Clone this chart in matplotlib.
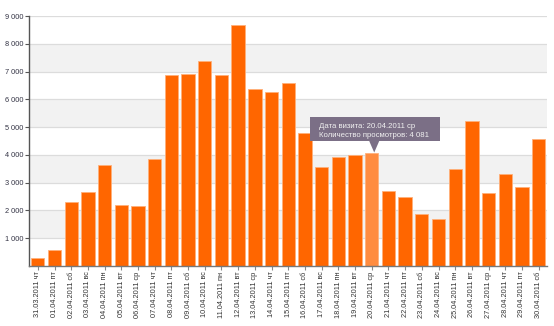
import matplotlib
matplotlib.use("Agg")
import matplotlib.pyplot as plt
import matplotlib.transforms as mtransforms
from matplotlib.patches import Rectangle, Polygon

plt.rcParams['font.family'] = ['Liberation Sans', 'DejaVu Sans']

dates = ['31.03.2011 чт', '01.04.2011 пт', '02.04.2011 сб', '03.04.2011 вс',
         '04.04.2011 пн', '05.04.2011 вт', '06.04.2011 ср', '07.04.2011 чт',
         '08.04.2011 пт', '09.04.2011 сб', '10.04.2011 вс', '11.04.2011 пн',
         '12.04.2011 вт', '13.04.2011 ср', '14.04.2011 чт', '15.04.2011 пт',
         '16.04.2011 сб', '17.04.2011 вс', '18.04.2011 пн', '19.04.2011 вт',
         '20.04.2011 ср', '21.04.2011 чт', '22.04.2011 пт', '23.04.2011 сб',
         '24.04.2011 вс', '25.04.2011 пн', '26.04.2011 вт', '27.04.2011 ср',
         '28.04.2011 чт', '29.04.2011 пт', '30.04.2011 сб']
views = [264, 576, 2281, 2641, 3637, 2197, 2137, 3842, 6867, 6915, 7371,
         6867, 8680, 6375, 6267, 6579, 4778, 3565, 3926, 3974, 4081, 2701,
         2473, 1849, 1681, 3493, 5210, 2617, 3313, 2821, 4550]
y_ticks = [1000, 2000, 3000, 4000, 5000, 6000, 7000, 8000, 9000]
y_labels = ['1 000', '2 000', '3 000', '4 000', '5 000', '6 000', '7 000', '8 000', '9 000']
hover = 20  # highlighted day with tooltip

fig = plt.figure(figsize=(5.54, 3.26), dpi=100)
ax = fig.add_axes([0.0532, 0.1848, 0.9342, 0.7661])

n = len(views)
ax.set_xlim(-0.5, n - 0.5)
ax.set_ylim(0, 9000)

# alternating bands + grid
for i, lo in enumerate(range(0, 9000, 1000)):
    if i % 2 == 1:
        ax.axhspan(lo, lo + 1000, color='#f2f2f2', zorder=0, lw=0)
for t in y_ticks:
    ax.axhline(t, color='#dcdcdc', lw=0.9, zorder=1)

colors = ['#ff6600'] * n
colors[hover] = '#ff8c40'
ax.bar(range(n), views, width=0.8, color=colors, edgecolor='#ffb07a',
       linewidth=0.6, zorder=2)

ax.set_yticks(y_ticks)
ax.set_yticklabels(y_labels, fontsize=5.3, color='#333344')
ax.set_xticks(range(n))
ax.set_xticklabels(dates, rotation=90, fontsize=5.3, color='#333333')
ax.tick_params(axis='y', length=3, width=0.8, color='#555555', pad=1.5)
ax.tick_params(axis='x', length=3, width=0.8, color='#888888', pad=1.2)

for s in ['top', 'right']:
    ax.spines[s].set_visible(False)
ax.spines['left'].set_color('#555555')
ax.spines['left'].set_linewidth(1.0)
ax.spines['bottom'].set_color('#777777')
ax.spines['bottom'].set_linewidth(1.0)

# tooltip (pixel offsets from the top of the hovered bar)
tip = mtransforms.ScaledTranslation(hover, views[hover], ax.transData)
ax.add_patch(Rectangle((-61.5, 11.3), 130, 24.4, transform=tip,
                       facecolor='#7b6f86', edgecolor='none', zorder=5,
                       clip_on=False))
ax.add_patch(Polygon([(-2.5, 11.5), (7.5, 11.5), (2.5, 0)], closed=True,
                     transform=tip, facecolor='#7b6f86', edgecolor='none',
                     zorder=5, clip_on=False))
ax.annotate('Дата визита: ' + dates[hover], xy=(hover, views[hover]),
            xytext=(-52.8, 26.2), textcoords='offset pixels', ha='left',
            va='center', fontsize=5.6, color='#f0f0f0', zorder=6)
ax.annotate('Количество просмотров: 4 081', xy=(hover, views[hover]),
            xytext=(-52.8, 16.8), textcoords='offset pixels', ha='left',
            va='center', fontsize=5.6, color='#f0f0f0', zorder=6)

fig.savefig('out.png', dpi=100)
